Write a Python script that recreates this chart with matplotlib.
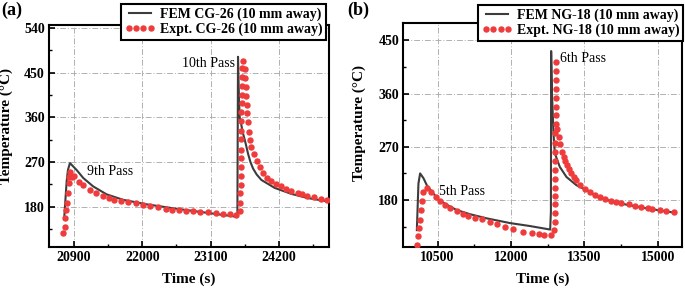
import matplotlib
matplotlib.use('Agg')
import matplotlib.pyplot as plt
from matplotlib.ticker import MultipleLocator

plt.rcParams['font.family'] = ['Liberation Serif', 'DejaVu Serif']
plt.rcParams['font.weight'] = 'bold'
plt.rcParams['axes.labelweight'] = 'bold'

# ---- panel (a): CG-26, 9th / 10th pass ----
fem_a_t = [20745, 20768, 20784, 20805, 20837, 20945, 21051, 21211, 21427, 21693,
           22069, 22496, 23033, 23514, 23530, 23540, 23555, 23567, 23620, 23648,
           23675, 23701, 23740, 23782, 23840, 23916, 24130, 24398, 24665, 24986]
fem_a_T = [157, 201, 231, 254, 268, 254, 238, 221, 205, 194,
           185, 177, 168, 160, 162, 482, 400, 361, 328, 315,
           301, 287, 270, 257, 245, 234, 218, 206, 197.5, 190.7]

expt_a_t = [20720, 20757, 20762, 20773, 20794, 20810, 20818, 20825, 20837, 20865,
            20906, 20987, 21051, 21158, 21255, 21362, 21459, 21549, 21651, 21774,
            21897, 22005, 22122, 22255, 22379, 22486, 22593, 22711, 22817, 22925,
            23058, 23182, 23299, 23407, 23514,
            23567, 23575, 23578, 23580, 23582, 23584, 23586, 23588, 23590, 23592,
            23594, 23596, 23598, 23600, 23602, 23604, 23606, 23615,
            23655, 23660, 23664, 23669, 23680, 23691, 23701, 23712, 23733, 23755,
            23797, 23840, 23888, 23942, 24006, 24077, 24157, 24237, 24317, 24398,
            24504, 24568, 24655, 24761, 24880, 24976]
expt_a_T = [128, 139, 157, 173, 187, 208, 228, 240, 250, 239,
            241, 230, 223, 213, 208, 201, 197.5, 194, 191, 189,
            187, 184, 181, 179, 176, 174, 172.6, 172, 170.5, 169,
            168.5, 167, 166, 165, 162.5,
            170.5, 187, 208, 224, 241, 261, 278, 295, 316, 333.5,
            352, 370, 389, 405, 423, 441, 459, 474,
            457, 439, 421, 403, 385, 369, 350, 331, 315, 300,
            287, 273, 260, 248, 238, 231, 226, 221, 216, 211,
            208, 205.5, 202, 199.5, 195.5, 192.7]

# ---- panel (b): NG-18, 5th / 6th pass ----
fem_b_t = [10076, 10109, 10143, 10211, 10280, 10382, 10516, 10687, 10891, 11162,
           11503, 11978, 12385, 12800, 12815, 12820, 12837, 12870, 12895, 12997,
           13133, 13337, 13541, 13745, 14084, 14423, 14763, 15306]
fem_b_T = [129, 208, 225, 217, 205, 194, 181, 172, 163, 156,
           149, 141, 136, 130, 160, 432, 360, 290, 259, 236,
           219, 205, 197, 186, 177, 171, 166, 159]

expt_b_t = [10088, 10109, 10129, 10143, 10157, 10178, 10198, 10280, 10368, 10463,
            10551, 10653, 10755, 10891, 11014, 11128, 11264, 11401, 11570, 11707,
            11876, 12045, 12249, 12419, 12575, 12670, 12827,
            12880, 12890, 12893, 12895, 12897, 12899, 12901, 12903, 12905, 12906,
            12907, 12908, 12909, 12910, 12911, 12912, 12913, 12914, 12915, 12915,
            12940, 12975, 13000, 13040, 13078, 13110, 13145, 13190, 13235, 13290,
            13337, 13403, 13505, 13607, 13709, 13811, 13913, 14049, 14150, 14253,
            14409, 14525, 14661, 14797, 14886, 15049, 15171, 15320]
expt_b_T = [104, 119, 133, 147, 163, 179, 194, 201, 194, 185,
            178, 172, 166, 161, 156, 153, 150, 148, 143, 139,
            135, 131, 126.5, 125, 122.6, 121, 121,
            129, 143, 158, 173, 187, 201, 215, 230, 246, 262,
            277, 293, 308, 323, 338, 353, 367, 383, 398, 414,
            300, 286, 274, 262, 253, 246, 239, 232, 225, 219,
            214, 205, 199, 193, 188, 184.5, 181, 179, 177, 175.5,
            172.7, 170, 167.7, 166, 165, 163, 161.4, 160.2]

line_color = '#3c3c3c'
dot_color = '#EF3B3B'
grid_style = (0, (6, 2, 1, 2))

fig = plt.figure(figsize=(6.85, 2.89), dpi=100)
ax1 = fig.add_axes([0.0715, 0.1453, 0.4085, 0.7682])
ax2 = fig.add_axes([0.5888, 0.1443, 0.4073, 0.7772])


def style_axes(ax, xlim, ylim, xmaj, ymaj, xticks, yticks):
    ax.set_xlim(*xlim)
    ax.set_ylim(*ylim)
    ax.set_xticks(xticks)
    ax.set_yticks(yticks)
    ax.xaxis.set_minor_locator(MultipleLocator(xmaj / 2))
    ax.yaxis.set_minor_locator(MultipleLocator(ymaj / 2))
    ax.tick_params(which='major', direction='in', length=4, width=1.2,
                   labelsize=10, pad=3)
    ax.tick_params(which='minor', direction='in', length=2, width=1)
    for lab in ax.get_xticklabels() + ax.get_yticklabels():
        lab.set_fontweight('bold')
    for sp in ax.spines.values():
        sp.set_linewidth(1.5)
    ax.grid(True, which='major', color='#b0b0b0', linestyle=grid_style, linewidth=0.7)
    ax.set_axisbelow(True)
    ax.set_xlabel('Time (s)', fontsize=11, fontweight='bold', labelpad=6)
    ax.set_ylabel('Temperature (°C)', fontsize=11, fontweight='bold')


def add_legend(ax, anchor):
    leg = ax.legend(loc='upper right', bbox_to_anchor=anchor, borderaxespad=0,
                    numpoints=4, fancybox=False, framealpha=1, edgecolor='black',
                    prop={'size': 10, 'weight': 'bold'}, handlelength=2.2,
                    handletextpad=0.35, borderpad=0.25, labelspacing=0.15)
    leg.get_frame().set_linewidth(1.5)


# panel (a)
ax1.plot(fem_a_t, fem_a_T, color=line_color, lw=1.5, label='FEM CG-26 (10 mm away)', zorder=3)
ax1.plot(expt_a_t, expt_a_T, linestyle='none', marker='o', ms=3.6, color=dot_color,
         label='Expt. CG-26 (10 mm away)', zorder=4)
style_axes(ax1, (20500, 25000), (99, 546), 1100, 90,
           [20900, 22000, 23100, 24200], [180, 270, 360, 450, 540])
ax1.yaxis.set_label_coords(-0.128, 0.545)
ax1.text(23487, 469, '10th Pass', fontsize=10, fontweight='normal', ha='right', va='center')
ax1.text(21110, 252, '9th Pass', fontsize=10, fontweight='normal', ha='left', va='center')
add_legend(ax1, (0.99, 1.095))

# panel (b)
ax2.plot(fem_b_t, fem_b_T, color=line_color, lw=1.5, label='FEM NG-18 (10 mm away)', zorder=3)
ax2.plot(expt_b_t, expt_b_T, linestyle='none', marker='o', ms=3.6, color=dot_color,
         label='Expt. NG-18 (10 mm away)', zorder=4)
style_axes(ax2, (9800, 15500), (100, 480), 1500, 90,
           [10500, 12000, 13500, 15000], [180, 270, 360, 450])
ax2.yaxis.set_label_coords(-0.132, 0.553)
ax2.text(12997, 420, '6th Pass', fontsize=10, fontweight='normal', ha='left', va='center')
ax2.text(10531, 194, '5th Pass', fontsize=10, fontweight='normal', ha='left', va='center')
add_legend(ax2, (1.003, 1.08))

fig.text(0.002, 1 - 10 / 289, '(a)', fontsize=13, fontweight='bold', ha='left', va='center')
fig.text(347 / 685, 1 - 10 / 289, '(b)', fontsize=13, fontweight='bold', ha='left', va='center')

fig.savefig('out.png', dpi=100)
